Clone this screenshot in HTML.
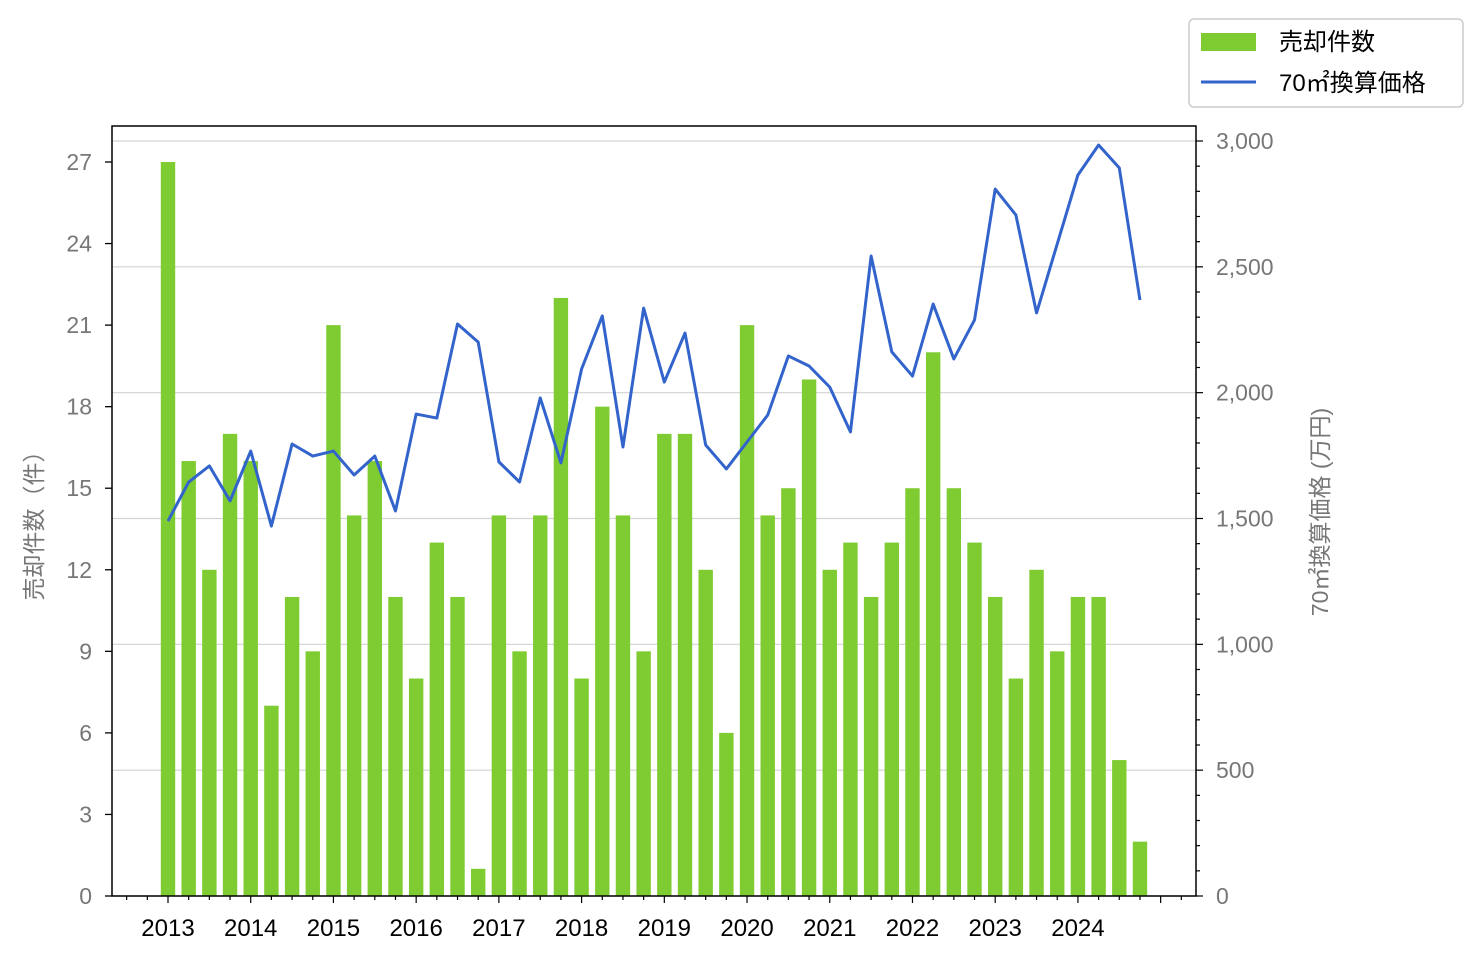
<!DOCTYPE html>
<html><head><meta charset="utf-8"><style>
html,body{margin:0;padding:0;background:#fff;}
svg{display:block;font-family:"Liberation Sans","Noto Sans CJK JP",sans-serif;}
</style></head><body>
<svg id="chart" width="1482" height="961"></svg>
<script>
const years=["2013","2014","2015","2016","2017","2018","2019","2020","2021","2022","2023","2024"];
const salesCounts=[27,16,12,17,16,7,11,9,21,14,16,11,8,13,11,1,14,9,14,22,8,18,14,9,17,17,12,6,21,14,15,19,12,13,11,13,15,20,15,13,11,8,12,9,11,11,5,2];
const prices=[1490,1645,1709,1570,1768,1470,1796,1748,1768,1673,1748,1530,1915,1899,2273,2201,1725,1645,1979,1721,2094,2305,1784,2336,2042,2237,1792,1697,1804,1911,2146,2106,2022,1844,2543,2162,2066,2352,2134,2289,2809,2706,2317,2591,2865,2984,2893,2368];
const leftTicks=[0,3,6,9,12,15,18,21,24,27];
const rightTicks=[0,500,1000,1500,2000,2500,3000];
const rightTickLabels=["0","500","1,000","1,500","2,000","2,500","3,000"];

const NS="http://www.w3.org/2000/svg";
const svg=document.getElementById('chart');
const L=112,R=1196,T=126,B=896;
const yL=v=>B-v*(B-162)/27;
const yR=v=>B-v*(B-141)/3000;
const xQ=i=>168+i*20.68;
function mk(tag,attrs,parent){const e=document.createElementNS(NS,tag);for(const k in attrs)e.setAttribute(k,attrs[k]);(parent||svg).appendChild(e);return e;}

// grid (right axis)
rightTicks.forEach(v=>{
  const g=mk('line',{x1:L,x2:R,y1:yR(v),y2:yR(v),stroke:'#d3d3d3','stroke-width':1.2});
  
  
});
// bars
salesCounts.forEach((v,i)=>{
  const b=mk('rect',{x:xQ(i)-7.2,y:yL(v),width:14.4,height:B-yL(v),fill:'#7fcc32'});
  
  
});
// line
const pts=prices.map((v,i)=>xQ(i)+','+yR(v)).join(' ');
const pl=mk('polyline',{points:pts,fill:'none',stroke:'#3264cc','stroke-width':3,'stroke-linejoin':'round'});


// frame
const fr=mk('rect',{x:L,y:T,width:R-L,height:B-T,fill:'none',stroke:'#000','stroke-width':1.5});


// left ticks
leftTicks.forEach(v=>{
  const y=yL(v);
  mk('line',{x1:L-7,x2:L,y1:y,y2:y,stroke:'#000','stroke-width':1.3});
  const t=mk('text',{x:L-20,y:y+8,'text-anchor':'end','font-size':23,fill:'#777'});
  t.textContent=v;
  
  
});
// right ticks
for(let v=0;v<=3000;v+=100){const y=yR(v);if(y<T)break;mk('line',{x1:R,x2:R+(v%500?4:7),y1:y,y2:y,stroke:'#000','stroke-width':1.2});}
rightTicks.forEach((v,i)=>{
  const t=mk('text',{x:R+20,y:yR(v)+8,'font-size':23,fill:'#777'});
  t.textContent=rightTickLabels[i];
  
  
});
// x ticks
for(let i=-2;i<=50;i++){const x=xQ(i);if(x<L||x>R)continue;mk('line',{x1:x,x2:x,y1:B,y2:B+(i%4===0?7:4),stroke:'#000','stroke-width':1.2});}
years.forEach((yv,k)=>{
  const t=mk('text',{x:xQ(k*4),y:B+40,'text-anchor':'middle','font-size':24,fill:'#000'});
  t.textContent=yv;
  
  
});
// axis titles
const lt=mk('text',{x:0,y:0,transform:'translate(42,520) rotate(-90)','text-anchor':'middle','font-size':23,fill:'#777'});
lt.textContent='売却件数（件）';


const rt=mk('text',{x:0,y:0,transform:'translate(1328,512) rotate(-90)','text-anchor':'middle','font-size':23,fill:'#777'});
rt.textContent='70㎡換算価格 (万円)';


// legend
const lg=mk('g',{});


mk('rect',{x:1189,y:19,width:274,height:88,rx:5,fill:'#fff',stroke:'#ccc','stroke-width':1.5},lg);
mk('rect',{x:1201,y:33,width:55,height:18,fill:'#7fcc32'},lg);
mk('line',{x1:1201,x2:1256,y1:82,y2:82,stroke:'#3264cc','stroke-width':3},lg);
const l1=mk('text',{x:1279,y:50,'font-size':24,fill:'#000'},lg);l1.textContent='売却件数';


const l2=mk('text',{x:1279,y:91,'font-size':24,fill:'#000'},lg);l2.textContent='70㎡換算価格';


</script>
</body></html>
